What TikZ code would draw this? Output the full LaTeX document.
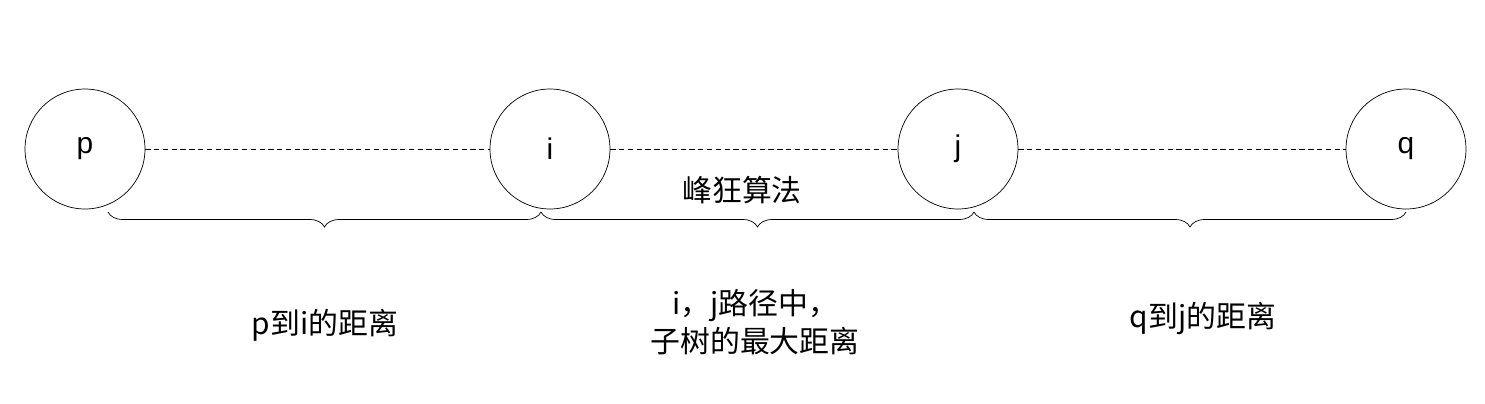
\documentclass[tikz,border=0pt]{standalone}
\usepackage{fontspec}
\setmainfont{Liberation Sans}
\newfontfamily\cjk{Noto Sans CJK SC}
\usetikzlibrary{positioning,decorations.pathreplacing}

\tikzset{
	vertex/.style={draw,circle,minimum size=2.4cm,inner sep=0pt,font=\fontsize{17}{20}\selectfont},
	link/.style={densely dashed,line width=0.4pt},
	span/.style={decorate,decoration={brace,mirror,amplitude=0.3cm}},
	note/.style={font=\cjk\fontsize{17}{22}\selectfont,align=center}
}

\begin{document}
\begin{tikzpicture}[x=0.02cm,y=-0.02cm]
\useasboundingbox (0,0) rectangle (1485,403);

\node [vertex] at (85,149)   (p) {p};
\node [vertex] at (550,149)  (i) {i};
\node [vertex] at (958,149)  (j) {j};
\node [vertex] at (1406,149) (q) {q};

\draw [link] (p) -- (i);
\draw [link] (i) -- (j);
\draw [link] (j) -- (q);

\node [note] at (742,190) (alg) {峰狂算法};

%%%%%%%%%%%%%%%%%%%%%%%%%%%%%%%%%%%%%%%%%%%%%%%%%%%%%%%%%%%%%%%%

\coordinate (b0) at (108,212);
\coordinate (b1) at (541,212);
\coordinate (b2) at (974,212);
\coordinate (b3) at (1406,212);

\draw [span] (b0) -- (b1);
\draw [span] (b1) -- (b2);
\draw [span] (b2) -- (b3);

\node [note] at (325,325)  (pi) {p到i的距离};
\node [note] at (755,322)  (ij) {i，j路径中，\\子树的最大距离};
\node [note] at (1203,318) (qj) {q到j的距离};

\end{tikzpicture}
\end{document}
